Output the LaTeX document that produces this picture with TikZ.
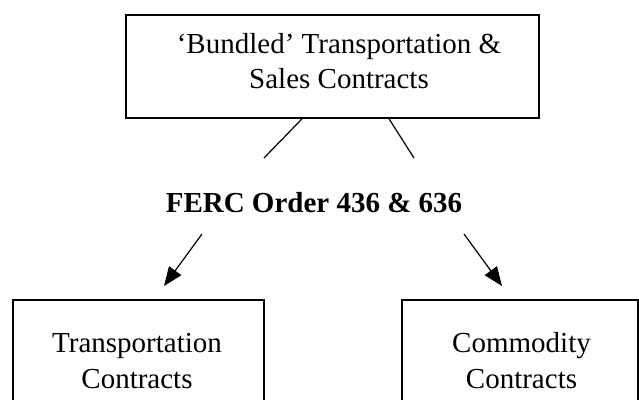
\documentclass[tikz,border=0pt]{standalone}
\usepackage{fontspec}
\setmainfont{Liberation Serif}
\usetikzlibrary{arrows.meta}
\begin{document}
\begin{tikzpicture}[x=1pt,y=-1pt,
  boxframe/.style={draw, line width=1.6pt, inner sep=0pt},
  txt/.style={font=\fontsize{29}{35.5}\selectfont, align=center, inner sep=0pt},
  link/.style={line width=1.2pt},
  arrowlink/.style={line width=1.2pt, -{Triangle[length=19pt,width=15pt]}}]
\useasboundingbox (0,0) rectangle (639,399);
% boxes
\node[boxframe, minimum width=413pt, minimum height=103pt] (top) at (332.5,66.5) {};
\node[boxframe, minimum width=251pt, minimum height=130pt] (left) at (138.5,365) {};
\node[boxframe, minimum width=236pt, minimum height=130pt] (right) at (520,365) {};
% texts
\node[txt, anchor=base] (toptext) at (339,88.5) {‘Bundled’ Transportation \&\\Sales Contracts};
\node[txt, font=\fontsize{29}{35.5}\selectfont\bfseries, anchor=base] (ferc) at (314,212) {FERC Order 436 \& 636};
\node[txt, anchor=base] (lefttext) at (137,388) {Transportation\\Contracts};
\node[txt, anchor=base] (righttext) at (521.5,388) {Commodity\\Contracts};
% connector ends
\coordinate (t1) at (302,0);
\coordinate (t2) at (389,0);
\coordinate (e1) at (264,158);
\coordinate (e2) at (414,158);
\coordinate (s1) at (202,234);
\coordinate (s2) at (464,234);
\coordinate (h1) at (164,286);
\coordinate (h2) at (502,286);
\draw[link] (top.south -| t1) -- (e1);
\draw[link] (top.south -| t2) -- (e2);
\draw[arrowlink] (s1) -- (h1);
\draw[arrowlink] (s2) -- (h2);
\end{tikzpicture}
\end{document}
